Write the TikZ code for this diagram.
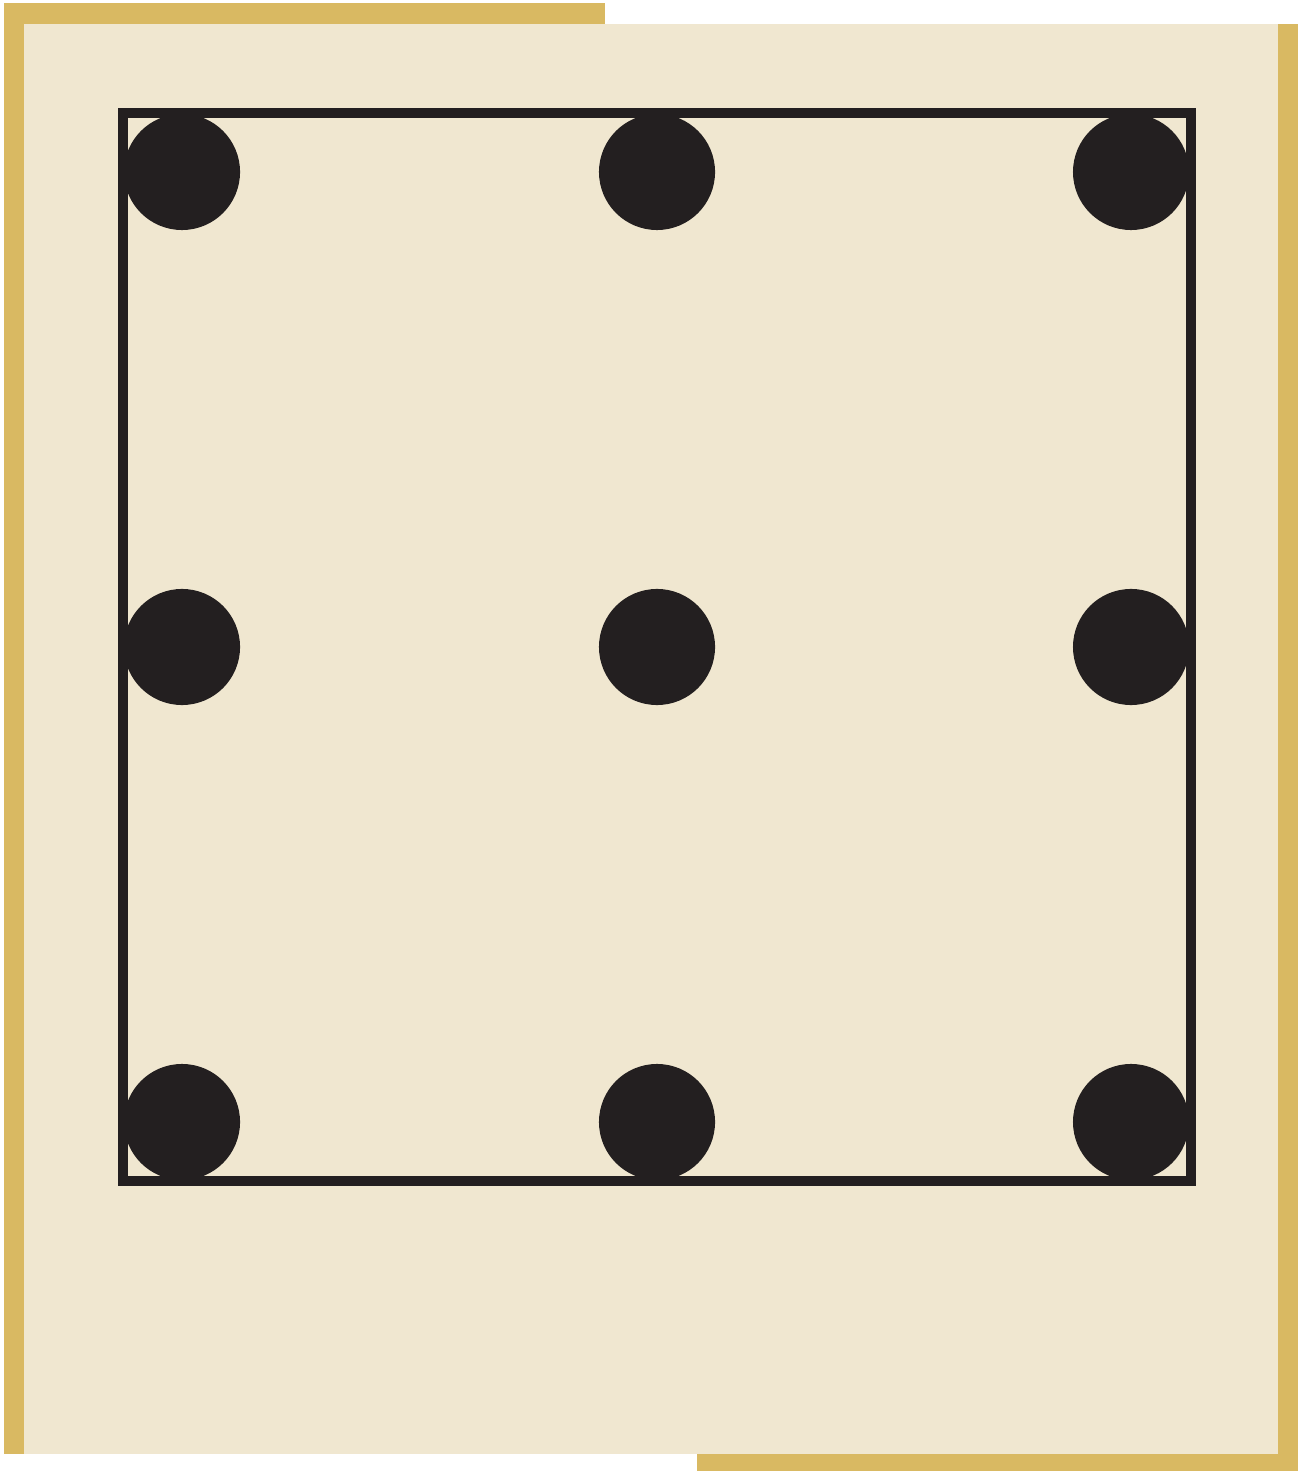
\documentclass[tikz,border=0pt]{standalone}
\usepackage{tikz}
\definecolor{goldbar}{RGB}{217,185,98}
\definecolor{paperbg}{RGB}{240,231,208}
\definecolor{inkdot}{RGB}{35,31,32}
\tikzset{
  bar/.style={fill=goldbar, draw=none},
  frame/.style={draw=inkdot, line width=1mm},
  dot/.style={circle, fill=inkdot, inner sep=0pt, minimum size=1.16cm}
}
\begin{document}
\begin{tikzpicture}[x=0.01cm, y=-0.01cm]
        \useasboundingbox (0,0) rectangle (1305,1471);
        % paper and gold edges
        \fill[paperbg] (24,24) rectangle (1278,1454);
        \fill[bar] (4,3) rectangle (24,1454);
        \fill[bar] (4,3) rectangle (605,24);
        \fill[bar] (1278,24) rectangle (1298,1471);
        \fill[bar] (697,1454) rectangle (1298,1471);
        % nine dots
        \foreach \i/\x in {1/182,2/657,3/1131}
          \foreach \j/\y in {1/172,2/647,3/1122}
            \node[dot] (d\i\j) at (\x,\y) {};
        % square
        \draw[frame] (123,113) rectangle (1191,1181);
      \end{tikzpicture}
\end{document}
